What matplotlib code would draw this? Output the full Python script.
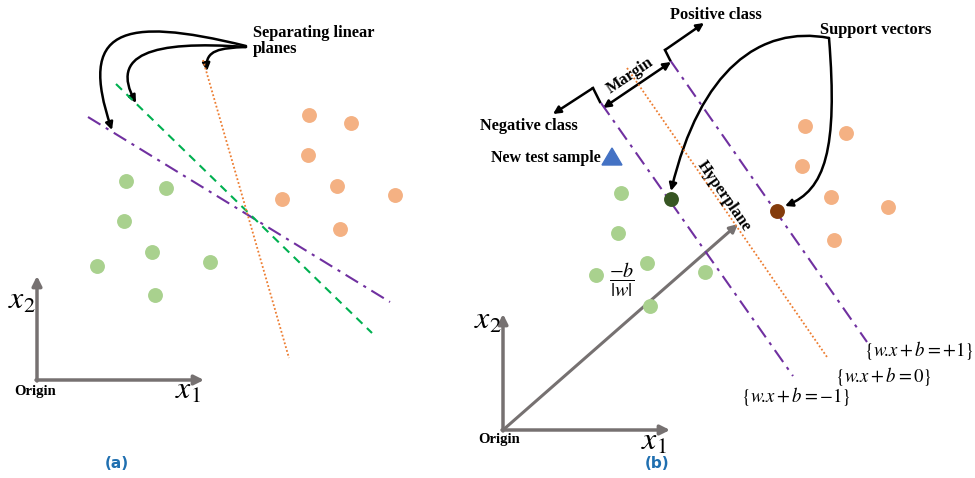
import numpy as np
import matplotlib.pyplot as plt
from matplotlib.patches import FancyArrowPatch, Polygon
from matplotlib.path import Path

plt.rcParams['mathtext.fontset'] = 'stix'

# ----- data (image pixel space, y down) -----
# panel (a)
a_neg_x = [126, 166, 124, 152, 97, 210, 155]
a_neg_y = [181, 188, 221, 252, 266, 262, 295]
a_pos_x = [309, 351, 308, 337, 282, 395, 340]
a_pos_y = [115, 123, 155, 186, 199, 195, 229]
a_purple = [(88, 117), (390, 302)]
a_green = [(116, 84), (372, 333)]
a_orange = [(203, 60), (289, 358)]

# panel (b)
b_neg_x = [621, 618, 647, 596, 705, 650]
b_neg_y = [193, 233, 263, 275, 272, 306]
b_pos_x = [805, 846, 802, 831, 888, 834]
b_pos_y = [126, 133, 166, 197, 207, 240]
sv_neg = (671, 199)
sv_pos = (777, 211)
test_pt = (612, 157)
b_margin_neg = [(601, 103), (793, 376)]
b_margin_pos = [(670, 60), (867, 342)]
b_hyper = [(627, 68), (827, 357)]

GREEN = '#a9d18e'
ORANGE = '#f4b183'
PURPLE = '#7030a0'
GRAY = '#767171'

fig = plt.figure(figsize=(9.75, 4.78), dpi=100)
ax = fig.add_axes([0, 0, 1, 1])
ax.set_xlim(0, 975)
ax.set_ylim(478, 0)
ax.axis('off')

serif = 'Liberation Serif'
FS = 11.8


def seg(p, **kw):
    ax.plot([p[0][0], p[1][0]], [p[0][1], p[1][1]], **kw)


def arrow(p0, p1, color='black', lw=1.8, style='-|>', ms=12):
    ax.add_patch(FancyArrowPatch(p0, p1, arrowstyle=style, mutation_scale=ms,
                                 color=color, lw=lw, shrinkA=0, shrinkB=0))


def curved(pts, lw=1.8):
    path = Path(pts, [Path.MOVETO, Path.CURVE4, Path.CURVE4, Path.CURVE4])
    ax.add_patch(FancyArrowPatch(path=path, arrowstyle='-|>', mutation_scale=11,
                                 color='black', lw=lw, fill=False))


# ----- panel (a) -----
ax.scatter(a_neg_x, a_neg_y, s=115, color=GREEN, zorder=3, lw=0)
ax.scatter(a_pos_x, a_pos_y, s=115, color=ORANGE, zorder=3, lw=0)
seg(a_purple, color=PURPLE, lw=1.5, dashes=(7, 3, 1.5, 3))
seg(a_green, color='#00b050', lw=1.5, dashes=(4, 3))
seg(a_orange, color='#ed7d31', lw=1.3, dashes=(1, 1.2))

ax.text(253, 41, 'Separating linear\nplanes', fontfamily=serif, fontweight='bold',
        fontsize=FS, va='center', ha='left', linespacing=1.05)
curved([(246, 46), (120, 15), (78, 30), (112, 130)])
curved([(246, 47), (150, 40), (110, 55), (136, 103)])
curved([(246, 47), (220, 48), (205, 50), (207, 71)])

# axes
arrow((37, 381), (37, 276), color=GRAY, lw=2.5, ms=14)
arrow((36, 380), (204, 380), color=GRAY, lw=2.5, ms=14)
ax.text(8, 300, r'$x_2$', fontsize=23, ha='left', va='center')
ax.text(175, 390, r'$x_1$', fontsize=23, ha='left', va='center')
ax.text(14, 391, 'Origin', fontfamily=serif, fontweight='bold', fontsize=10.5, va='center')
ax.text(117, 464, '(a)', color='#1f6fb0', fontweight='bold', fontsize=11,
        ha='center', va='center')

# ----- panel (b) -----
ax.scatter(b_neg_x, b_neg_y, s=115, color=GREEN, zorder=3, lw=0)
ax.scatter(b_pos_x, b_pos_y, s=115, color=ORANGE, zorder=3, lw=0)
ax.scatter([sv_neg[0]], [sv_neg[1]], s=115, color='#375623', zorder=4, lw=0)
ax.scatter([sv_pos[0]], [sv_pos[1]], s=115, color='#843c0c', zorder=4, lw=0)
ax.add_patch(Polygon([(test_pt[0] - 10, test_pt[1] + 8), (test_pt[0] + 10, test_pt[1] + 8),
                      (test_pt[0], test_pt[1] - 9)], closed=True, color='#4472c4', zorder=4))

seg(b_margin_neg, color=PURPLE, lw=1.5, dashes=(7, 3, 1.5, 3))
seg(b_margin_pos, color=PURPLE, lw=1.5, dashes=(7, 3, 1.5, 3))
seg(b_hyper, color='#ed7d31', lw=1.3, dashes=(1, 1.2))

# margin marker
seg([(593, 88), (600, 102)], color='black', lw=1.8)
seg([(665, 50), (670, 60)], color='black', lw=1.8)
arrow((603, 108), (671, 62), style='<|-|>', ms=11)
arrow((593, 88), (553, 114), ms=11)
arrow((665, 50), (704, 23), ms=11)
ax.text(630, 76, 'Margin', fontfamily=serif, fontweight='bold', fontsize=FS,
        rotation=34, ha='center', va='center', rotation_mode='anchor')
ax.text(529, 126, 'Negative class', fontfamily=serif, fontweight='bold', fontsize=FS,
        ha='center', va='center')
ax.text(716, 15, 'Positive class', fontfamily=serif, fontweight='bold', fontsize=FS,
        ha='center', va='center')
ax.text(546, 158, 'New test sample', fontfamily=serif, fontweight='bold', fontsize=11.5,
        ha='center', va='center')
ax.text(724, 196, 'Hyperplane', fontfamily=serif, fontweight='bold', fontsize=FS,
        rotation=-55, ha='center', va='center', rotation_mode='anchor')
ax.text(876, 30, 'Support vectors', fontfamily=serif, fontweight='bold', fontsize=FS,
        ha='center', va='center')
curved([(829, 38), (760, 25), (700, 70), (671, 191)])
curved([(829, 38), (838, 150), (825, 190), (785, 206)])

# axes + vector
arrow((503, 431), (503, 314), color=GRAY, lw=2.5, ms=14)
arrow((502, 430), (670, 430), color=GRAY, lw=2.5, ms=14)
arrow((503, 430), (738, 224), color=GRAY, lw=2.2, ms=12)
ax.text(474, 320, r'$x_2$', fontsize=23, ha='left', va='center')
ax.text(641, 441, r'$x_1$', fontsize=23, ha='left', va='center')
ax.text(478, 440, 'Origin', fontfamily=serif, fontweight='bold', fontsize=10.5, va='center')
ax.text(622, 280, r'$\dfrac{-b}{|w|}$', fontsize=14.5, ha='center', va='center')
ax.text(657, 464, '(b)', color='#1f6fb0', fontweight='bold', fontsize=11,
        ha='center', va='center')

ax.text(864, 350, r'$\{w\!.\!x + b = +1\}$', fontsize=13.5, ha='left', va='center')
ax.text(835, 377, r'$\{w\!.\!x + b = 0\}$', fontsize=13.5, ha='left', va='center')
ax.text(741, 397, r'$\{w\!.\!x + b = -1\}$', fontsize=13.5, ha='left', va='center')

fig.savefig('out.png', dpi=100)
